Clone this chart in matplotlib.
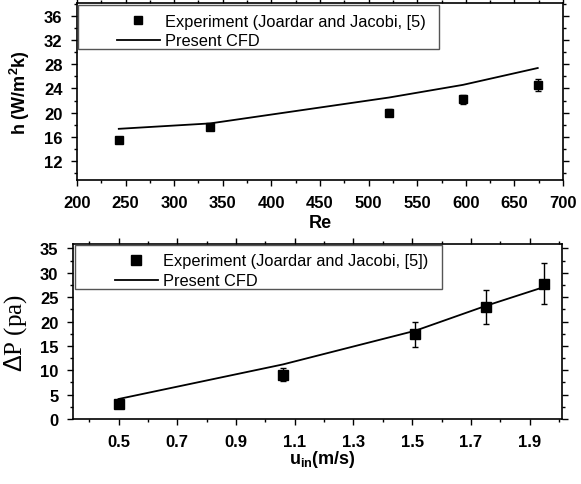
import matplotlib
matplotlib.use("Agg")
import matplotlib.pyplot as plt
from matplotlib.ticker import MultipleLocator
from matplotlib.patches import Rectangle
from matplotlib.lines import Line2D

plt.rcParams['font.family'] = ['Liberation Sans', 'DejaVu Sans']
plt.rcParams['mathtext.fontset'] = 'custom'
plt.rcParams['mathtext.rm'] = 'Liberation Sans'
plt.rcParams['mathtext.bf'] = 'Liberation Sans:bold'
plt.rcParams['mathtext.it'] = 'Liberation Sans:italic'

# Heat transfer coefficient vs Reynolds number
re_vals = [243, 337, 521, 597, 674]
h_exp = [15.4, 17.6, 20.0, 22.2, 24.6]
h_err = [0.5, 0.5, 0.6, 0.8, 1.0]
h_cfd = [17.3, 18.2, 22.5, 24.6, 27.4]

# Pressure drop vs inlet velocity
u_in = [0.5, 1.06, 1.51, 1.75, 1.95]
dp_exp = [3.0, 9.1, 17.4, 23.0, 27.7]
dp_err = [0.4, 1.35, 2.55, 3.5, 4.2]
dp_cfd = [4.1, 11.2, 18.1, 23.2, 27.1]

label_exp_top = "Experiment (Joardar and Jacobi, [5)"
label_exp_bot = "Experiment (Joardar and Jacobi, [5])"
label_cfd = "Present CFD"

W, H = 581, 485
fig = plt.figure(figsize=(W / 100, H / 100), dpi=100)


def fx(px):
    return px / W


def fy(py):
    return 1 - py / H


ax1 = fig.add_axes([fx(77), fy(181), fx(563 - 77), (181 - 4) / H])
ax2 = fig.add_axes([fx(73), fy(420), fx(562 - 73), (420 - 245) / H])


def style(ax):
    for s in ax.spines.values():
        s.set_linewidth(1.2)
    ax.tick_params(which='both', direction='out', width=1.0, labelsize=12,
                   top=True, right=True)
    ax.tick_params(which='major', length=4.5, pad=6)
    ax.tick_params(which='minor', length=2.5)
    for lab in ax.get_xticklabels() + ax.get_yticklabels():
        lab.set_fontweight('bold')


# top panel
ax1.errorbar(re_vals, h_exp, yerr=h_err, fmt='s', color='black', ms=6,
             capsize=2.5, elinewidth=1, capthick=1)
ax1.plot(re_vals, h_cfd, '-', color='black', lw=1.3)
ax1.set_xlim(200, 700)
ax1.set_ylim(8.8, 38.2)
ax1.xaxis.set_major_locator(MultipleLocator(50))
ax1.xaxis.set_minor_locator(MultipleLocator(25))
ax1.set_yticks(range(12, 37, 4))
ax1.yaxis.set_minor_locator(MultipleLocator(2))
style(ax1)
ax1.set_xlabel("Re", fontsize=13, fontweight='bold')
ax1.xaxis.set_label_coords(0.5, (181 - 215) / 177)
ax1.set_ylabel(r"h (W/m$^\mathbf{2}$k)", fontsize=13, fontweight='bold')
ax1.yaxis.set_label_coords((32 - 77) / 486, 0.5)

# bottom panel
ax2.errorbar(u_in, dp_exp, yerr=dp_err, fmt='s', color='black', ms=6.5,
             capsize=2.5, elinewidth=1, capthick=1)
ax2.plot(u_in, dp_cfd, '-', color='black', lw=1.3)
ax2.set_xlim(0.345, 2.01)
ax2.set_ylim(0, 35.9)
ax2.set_xticks([0.5, 0.7, 0.9, 1.1, 1.3, 1.5, 1.7, 1.9])
ax2.xaxis.set_minor_locator(MultipleLocator(0.1))
ax2.set_yticks(range(0, 36, 5))
ax2.yaxis.set_minor_locator(MultipleLocator(2.5))
style(ax2)
ax2.set_xlabel(r"u$_{\mathbf{in}}$(m/s)", fontsize=13, fontweight='bold')
ax2.xaxis.set_label_coords((322 - 73) / 489, (420 - 449) / 175)
ax2.set_ylabel(r"$\Delta$P (pa)", fontsize=18,
               family=['Liberation Serif', 'DejaVu Serif'])
ax2.yaxis.set_label_coords((29 - 73) / 489, 0.5)

# legends with hand-placed frames
for ax, box, anchor, lab_exp, ms in [
    (ax1, (78, 6, 439, 50), (117, 14.5), label_exp_top, 6),
    (ax2, (75, 246, 442, 290), (115, 254.5), label_exp_bot, 6.5),
]:
    x0, y0, x1, y1 = box
    ax.add_patch(Rectangle((fx(x0), fy(y1)), (x1 - x0) / W, (y1 - y0) / H,
                           transform=fig.transFigure, clip_on=False,
                           facecolor='white', edgecolor='#555555', lw=1.0,
                           zorder=4))
    handles = [Line2D([], [], ls='none', marker='s', color='black', ms=ms),
               Line2D([], [], ls='-', color='black', lw=1.3)]
    leg = ax.legend(handles, [lab_exp, label_cfd], loc='upper left',
                    bbox_to_anchor=(fx(anchor[0]), fy(anchor[1])),
                    bbox_transform=fig.transFigure, frameon=False, fontsize=11.8,
                    borderpad=0, borderaxespad=0, handlelength=2.6,
                    handletextpad=0.3, labelspacing=0.3)
    leg.set_zorder(6)

fig.savefig("out.png", dpi=100)
